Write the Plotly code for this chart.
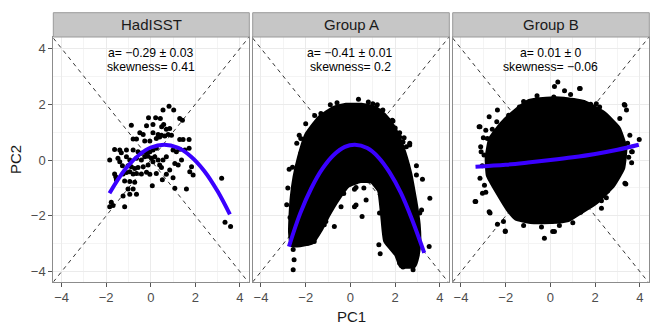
import plotly.graph_objects as go

# ---------------- data ----------------
panel_titles = ["HadISST", "Group A", "Group B"]
stat_a = ["a= \u22120.29 \u00b1 0.03", "a= \u22120.41 \u00b1 0.01", "a= 0.01 \u00b1 0"]
stat_skew = ["skewness= 0.41", "skewness= 0.2", "skewness= \u22120.06"]
tick_vals = [-4, -2, 0, 2, 4]

had_x = [0.82, 0.55, 1.03, 0.22, -0.10, 0.43, 1.30, 1.42, -0.87, -0.19, 0.10, 0.58, 0.85, 0.49, 0.70,
         -0.49, -0.34, 0.10, 0.33, 0.48, 0.78, 0.93, 1.30, 1.45, 1.72, -0.79, -0.64, -0.27, -0.04, 0.25,
         0.40, 0.63, -1.62, -1.39, -1.32, -1.09, -0.79, -0.57, -0.42, -0.19, -0.04, 0.10, 0.25, 1.00,
         1.15, 1.30, 1.53, 1.72, -1.84, -1.47, -1.39, -1.09, -0.94, -0.64, -0.42, -0.27, -0.12, 0.03,
         0.18, 0.33, 0.55, 0.70, 1.08, 1.23, 1.38, -1.27, -1.02, -0.87, -0.72, -0.57, -0.34, -0.12,
         0.10, 0.40, 0.48, 1.83, -1.62, -1.57, -1.24, -1.09, -0.94, -0.79, -0.64, -0.42, -0.19, -0.04,
         0.25, 0.70, 0.85, 1.75, 1.90, -1.54, -1.17, -0.94, -0.72, 0.52, 1.00, 3.18, -1.02, -0.79,
         1.08, 1.60, 0.07, -0.94, -0.64, -1.24, -1.77, -1.69, -1.84, -1.17, 3.33, 3.58]
had_y = [1.93, 1.79, 1.79, 1.52, 1.52, 1.49, 1.49, 1.43, 1.25, 1.23, 1.27, 1.27, 1.13, 1.19, 1.10,
         0.98, 0.92, 0.98, 0.92, 0.89, 0.92, 0.89, 0.74, 0.74, 0.74, 0.75, 0.75, 0.68, 0.68, 0.77,
         0.83, 0.86, 0.38, 0.36, 0.26, 0.36, 0.36, 0.30, 0.24, 0.24, 0.30, 0.36, 0.42, 0.36,
         0.30, 0.39, 0.36, 0.42, 0.00, 0.06, -0.06, 0.12, 0.00, 0.06, 0.00, 0.12, 0.14, 0.06,
         0.12, 0.00, 0.00, 0.12, -0.12, -0.18, 0.00, -0.20, -0.20, -0.24, -0.30, -0.27, -0.24, -0.18,
         -0.06, -0.18, -0.27, -0.24, -0.50, -0.60, -0.50, -0.45, -0.42, -0.50, -0.48, -0.50, -0.44, -0.51,
         -0.48, -0.51, -0.36, -0.42, -0.54, -0.71, -0.75, -0.77, -0.80, -0.71, -0.63, -0.65, -1.04, -1.04,
         -1.01, -1.04, -0.92, -1.23, -1.23, -1.29, -1.51, -1.63, -1.67, -1.67, -2.23, -2.38]
had_curve_x = [-1.85, -1.4, -1.0, -0.5, 0.0, 0.6, 1.2, 1.8, 2.4, 3.0, 3.55]
had_curve_y = [-1.19, -0.61, -0.19, 0.20, 0.45, 0.55, 0.45, 0.13, -0.39, -1.12, -1.95]

a_cloud_x = [-2.62, -2.70, -2.68, -2.62, -2.50, -2.30, -1.98, -1.40, -0.72, -0.20, 0.50, 1.10, 1.52,
             1.88, 2.22, 2.48, 2.68, 2.82, 2.95, 3.05, 3.08, 3.00, 2.85, 2.25, 2.05, 1.55, 1.42, 1.28,
             0.95, 0.45, -0.10, -0.55, -1.00, -1.32, -1.70, -2.25]
a_cloud_y = [-3.05, -2.60, -2.00, -1.30, -0.60, 0.10, 0.90, 1.52, 1.88, 1.98, 1.98, 1.88, 1.62,
             1.25, 0.70, 0.10, -0.50, -1.10, -1.70, -2.30, -2.90, -3.45, -3.80, -3.80, -3.40, -2.90,
             -2.00, -1.10, -0.78, -0.75, -0.92, -1.40, -2.00, -2.50, -2.95, -3.05]
a_pts_x = [0.36, 1.00, -0.12, -1.32, 1.45, 1.87, -2.29, -2.07, -1.84, 2.20, 2.50, 2.65, -2.22, 2.35,
           -2.40, -2.74, -2.59, -2.44, -2.70, -2.56, -2.52, -2.56, -1.92, -1.62, -0.72, -1.17, -0.42,
           0.25, 0.18, -2.22, 1.38, 1.90, 2.20, 2.65, 2.95, 3.22, 3.55, 3.18, 3.52, 1.33, 0.70, 0.18,
           0.52, 0.25, 1.27, 2.28, 2.20, 2.35, 2.80, 2.73, 2.95, 2.58, 1.60, 1.75,
           -0.60, -0.90, 0.80, 1.20, -1.60, -2.00, 2.00, 2.40, -2.80, -2.85, 2.95, 3.10, -1.45, -1.10,
           1.70, 1.30, -0.30, 0.60]
a_pts_y = [2.18, 2.02, 1.85, 1.67, 1.79, 1.43, 0.89, 0.71, 0.95, 0.83, 0.48, 0.54, 0.24, 0.65,
           0.60, -0.33, -0.26, -0.71, -2.06, -3.21, -3.57, -3.93, -2.98, -2.92, -2.38, -2.32, -1.67,
           -1.61, -1.05, 0.77, 1.76, 1.40, 0.98, 0.60, -0.54, -0.69, -1.37, -1.79, -3.10, -3.36, -1.43,
           -1.67, -2.02, -0.98, -3.04, -3.33, -3.69, -3.83, -3.93, -3.57, -3.45, -3.10, -2.86, -2.50,
           2.05, 1.98, 2.08, 1.98, 1.60, 1.30, 1.15, 0.80, -1.00, -1.60, -0.20, -1.90, -2.60, -2.20,
           -2.40, -1.90, -1.20, -1.00]
a_curve_x = [-2.75, -2.25, -1.75, -1.25, -0.75, -0.25, 0.2, 0.75, 1.25, 1.75, 2.25, 2.75, 3.3]
a_curve_y = [-3.10, -1.92, -1.01, -0.31, 0.18, 0.47, 0.55, 0.43, 0.10, -0.44, -1.17, -2.12, -3.33]

b_cloud_x = [-2.85, -2.70, -2.20, -1.60, -0.95, -0.20, 0.60, 1.50, 2.40, 3.05, 3.35, 3.25, 2.80,
             2.05, 1.35, 0.80, 0.00, -0.90, -1.55, -1.90, -2.35, -2.80]
b_cloud_y = [0.10, 0.75, 1.30, 1.75, 2.12, 2.20, 2.20, 2.08, 1.68, 1.15, 0.45, -0.30, -0.92,
             -1.52, -1.88, -2.15, -2.22, -2.22, -2.10, -1.78, -1.20, -0.55]
b_pts_x = [0.33, 0.18, 0.63, 1.33, 0.15, -0.49, -0.94, -1.39, -1.87, -2.37, -2.74, -3.19, -2.89,
           3.33, 3.40, 3.10, 3.55, 3.97, 3.63, 3.63, -3.12, 2.05, 2.20, -3.15, -3.34, -3.04, -2.89,
           -2.97, -3.15, -2.70, -2.37, -2.02, -1.54, -0.27, -2.82, -2.40, 1.30, 3.30, 3.66, 3.33,
           3.03, 2.55, 2.28, 1.68, 1.35, 0.81, 0.10, 0.06, 0.18, -2.02, -3.37, -2.74, 0.78, 2.02, 2.28,
           3.37, -3.00, -3.05, -2.95, -3.10, -2.60, -1.20, -0.60, 0.90, 1.80, 2.70, 3.45, 3.50, -1.20,
           -0.40, 0.40, 1.00, 2.50, -2.10]
b_pts_y = [2.80, 2.64, 2.48, 2.56, 2.26, 2.14, 2.02, 1.90, 1.61, 1.79, 1.55, 1.19, 1.07,
           1.96, 1.79, 1.49, 0.89, 0.74, 0.30, -0.10, 0.48, 2.02, 1.90, 1.19, -1.49, -1.19, -1.15,
           0.18, -0.65, -1.90, -2.30, -2.54, -1.96, -2.80, 0.77, 1.37, 2.56, 1.99, 0.30, -0.83,
           -0.44, -1.11, -1.46, -1.67, -1.87, -1.99, -2.56, -2.20, -2.56, -2.56, -1.49, -1.85, -2.00,
           -1.49, -1.73, -0.86, 0.80, -0.20, -0.90, 0.30, 1.10, 2.10, 2.30, 2.35, 2.00, 1.40, 0.60,
           0.10, -2.35, -2.40, -2.35, -2.25, -1.35, -2.20]
b_curve_x = [-3.35, -2.0, -1.0, 0.0, 1.0, 2.0, 3.0, 3.95]
b_curve_y = [-0.24, -0.17, -0.09, 0.0, 0.10, 0.22, 0.37, 0.55]

x_range = [-4.37, 4.42]
y_range = [-4.36, 4.41]

# ---------------- figure ----------------
FONT = "Liberation Sans, Arial, Helvetica, sans-serif"
BLUE = "#3a00ff"
fig = go.Figure()

x_domains = [[53.3 / 666, 249.3 / 666], [252.7 / 666, 449.3 / 666], [452.7 / 666, 649.3 / 666]]
y_domain = [(333 - 281.7) / 333, (333 - 37) / 333]

scatter_sets = [(had_x, had_y), (a_pts_x, a_pts_y), (b_pts_x, b_pts_y)]
clouds = [None, (a_cloud_x, a_cloud_y), (b_cloud_x, b_cloud_y)]
curves = [(had_curve_x, had_curve_y), (a_curve_x, a_curve_y), (b_curve_x, b_curve_y)]

for i in range(3):
    xa = "x" if i == 0 else f"x{i+1}"
    ya = "y" if i == 0 else f"y{i+1}"
    # diagonal reference lines
    fig.add_trace(go.Scatter(x=x_range, y=x_range, xaxis=xa, yaxis=ya, mode="lines",
                             line=dict(color="black", width=0.8, dash="4px,4px"),
                             hoverinfo="skip", showlegend=False))
    fig.add_trace(go.Scatter(x=x_range, y=[-v for v in x_range], xaxis=xa, yaxis=ya, mode="lines",
                             line=dict(color="black", width=0.8, dash="4px,4px"),
                             hoverinfo="skip", showlegend=False))
    if clouds[i] is not None:
        cx, cy = clouds[i]
        fig.add_trace(go.Scatter(x=cx + [cx[0]], y=cy + [cy[0]], xaxis=xa, yaxis=ya, mode="lines",
                                 fill="toself", fillcolor="black",
                                 line=dict(color="black", width=4, shape="spline", smoothing=0.4),
                                 hoverinfo="skip", showlegend=False))
    sx, sy = scatter_sets[i]
    fig.add_trace(go.Scatter(x=sx, y=sy, xaxis=xa, yaxis=ya, mode="markers",
                             marker=dict(color="black", size=5, line=dict(width=0)),
                             showlegend=False))
    kx, ky = curves[i]
    fig.add_trace(go.Scatter(x=kx, y=ky, xaxis=xa, yaxis=ya, mode="lines",
                             line=dict(color=BLUE, width=4, shape="spline"),
                             showlegend=False))

    axis_common = dict(showgrid=True, gridcolor="#ebebeb", gridwidth=1, zeroline=False,
                       showline=True, mirror=True, linecolor="#8c8c8c", linewidth=1,
                       ticks="outside", ticklen=4, tickcolor="#555555", tickwidth=1,
                       tickvals=tick_vals, tickfont=dict(family=FONT, size=13, color="#4d4d4d"),
                       minor=dict(tickvals=[-3, -1, 1, 3], showgrid=True, gridcolor="#f4f4f4",
                                  gridwidth=0.6, ticks=""),
                       automargin=False, fixedrange=True)
    xkey = "xaxis" if i == 0 else f"xaxis{i+1}"
    ykey = "yaxis" if i == 0 else f"yaxis{i+1}"
    fig.update_layout({
        xkey: dict(axis_common, domain=x_domains[i], range=x_range, anchor=ya),
        ykey: dict(axis_common, domain=y_domain, range=y_range, anchor=xa,
                   showticklabels=(i == 0), ticks="outside" if i == 0 else ""),
    })

    # strip header
    fig.add_shape(type="rect", xref="paper", yref="paper",
                  x0=x_domains[i][0], x1=x_domains[i][1],
                  y0=y_domain[1], y1=(333 - 12.7) / 333,
                  fillcolor="#c6c6c6", line=dict(color="#9a9a9a", width=1), layer="above")
    fig.add_annotation(xref="paper", yref="paper", x=(x_domains[i][0] + x_domains[i][1]) / 2,
                       y=(333 - 25) / 333, text=panel_titles[i], showarrow=False,
                       font=dict(family=FONT, size=15, color="#1a1a1a"),
                       xanchor="center", yanchor="middle")
    # stats text
    fig.add_annotation(xref=xa, yref=ya, x=0, y=3.85, text=stat_a[i], showarrow=False,
                       font=dict(family=FONT, size=12.2, color="black"),
                       xanchor="center", yanchor="middle", borderpad=0)
    fig.add_annotation(xref=xa, yref=ya, x=0, y=3.35, text=stat_skew[i], showarrow=False,
                       font=dict(family=FONT, size=12.2, color="black"),
                       xanchor="center", yanchor="middle", borderpad=0)

# axis titles
fig.add_annotation(xref="paper", yref="paper", x=(x_domains[1][0] + x_domains[1][1]) / 2,
                   y=(333 - 316) / 333, text="PC1", showarrow=False,
                   font=dict(family=FONT, size=15, color="#1a1a1a"),
                   xanchor="center", yanchor="middle")
fig.add_annotation(xref="paper", yref="paper", x=15 / 666, y=(333 - 160) / 333, text="PC2",
                   showarrow=False, textangle=-90,
                   font=dict(family=FONT, size=15, color="#1a1a1a"), xanchor="center", yanchor="middle")

fig.update_layout(width=666, height=333, margin=dict(l=0, r=0, t=0, b=0),
                  paper_bgcolor="white", plot_bgcolor="white", showlegend=False,
                  font=dict(family=FONT))

fig.write_html("out.html")
